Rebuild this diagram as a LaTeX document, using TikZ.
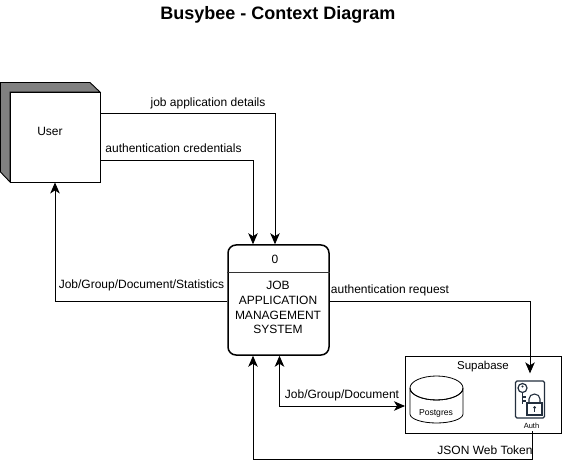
\documentclass[tikz,border=0pt]{standalone}
\usepackage{fontspec}
\setmainfont{Liberation Sans}
\usetikzlibrary{arrows.meta,calc,shapes.geometric}
\definecolor{iconblue}{HTML}{232F3E}
\tikzset{
  x=1pt,y=-1pt,
  conn/.style={draw=black,line width=0.9pt,-{Stealth[length=11pt,width=9.5pt,inset=3pt]}},
  connb/.style={draw=black,line width=0.9pt,{Stealth[length=11pt,width=9.5pt,inset=3pt]}-{Stealth[length=11pt,width=9.5pt,inset=3pt]}},
  lbl/.style={font=\fontsize{12}{14}\selectfont,inner sep=0pt,text=black},
  boxed/.style={draw=black,line width=0.9pt,fill=white,inner sep=0pt},
}
\begin{document}
\begin{tikzpicture}
\useasboundingbox (0,0) rectangle (562,470);
\fill[white] (0,0) rectangle (562,470);
\node[font=\fontsize{18}{20}\selectfont\bfseries,inner sep=0pt] (title) at (278,15) {Busybee - Context Diagram};

% User
\fill[gray,draw=black,line width=0.9pt] (0.5,82.5) -- (90,82.5) -- (100,92) -- (10,92) -- (10,182) -- (0.5,172) -- cycle;
\node[boxed,minimum width=90pt,minimum height=90pt] (user) at (55,137) {};
\node[lbl] (userlabel) at (50,131) {User};

% Main process
\node[boxed,line width=1.5pt,rounded corners=8pt,minimum width=101pt,minimum height=110pt] (main) at (278.5,300) {};
\draw[line width=0.8pt,draw=black!80] (main.west |- 0,272.5) -- (main.east |- 0,272.5);
\node[lbl] (zero) at (275,259.5) {0};
\node[lbl,align=center,font=\fontsize{12}{14.8}\selectfont] (jobs) at (278,307.5) {JOB\\APPLICATION\\MANAGEMENT\\SYSTEM};

% Supabase
\node[boxed,minimum width=156pt,minimum height=77pt,anchor=north west] (supa) at (404.5,356) {};
\node[lbl,font=\fontsize{11.5}{13}\selectfont] (supalabel) at (483,367) {Supabase};

% Postgres cylinder
\path[draw=black,line width=0.8pt,fill=white] (410,388) -- (410,414) arc[start angle=180,end angle=360,x radius=26.5pt,y radius=9pt] -- (463,388) arc[start angle=0,end angle=360,x radius=26.5pt,y radius=12pt];
\draw[line width=0.8pt] (410,388) arc[start angle=180,end angle=360,x radius=26.5pt,y radius=12pt];
\coordinate (pg) at (405,406);
\node[lbl,font=\fontsize{8.6}{10}\selectfont] (pglabel) at (436,413.5) {Postgres};

% Auth icon
\node[draw=iconblue,line width=1.3pt,rounded corners=1.5pt,minimum width=29pt,minimum height=37pt,inner sep=0pt,fill=white] (auth) at (530,399.5) {};
\draw[iconblue,line width=1.2pt] (522.5,388) circle[radius=4.5pt];
\fill[iconblue] (522.5,386.5) circle[radius=1.2pt];
\draw[iconblue,line width=1.2pt] (522.5,392.5) -- (522.5,404) (522.5,397) -- (526,397) (522.5,401) -- (526,401);
\draw[iconblue,line width=1.1pt] (529,403) -- (529,399) arc[start angle=180,end angle=0,x radius=5.5pt,y radius=5pt] -- (540,403);
\draw[iconblue,line width=1.2pt,fill=white] (527,403) rectangle (542,415);
\fill[iconblue] (534.5,407.5) circle[radius=1.5pt];
\draw[iconblue,line width=0.8pt] (534.5,408) -- (534.5,411.5);
\node[lbl,font=\fontsize{7.5}{9}\selectfont] (authlabel) at (531.5,425.5) {Auth};

% Connectors
\draw[conn] ([yshift=24pt]user.east) -| ([xshift=-3.5pt]main.north);
\node[lbl] (l1) at (208,103) {job application details};
\draw[conn] ([yshift=-23pt]user.east) -| ([xshift=-25.5pt]main.north);
\node[lbl] (l2) at (173.5,148) {authentication credentials};
\draw[conn] ([yshift=-1pt]main.west) -| (user.south);
\node[lbl] (l3) at (141.5,285) {Job/Group/Document/Statistics};
\draw[conn] ([yshift=-1pt]main.east) -| ([yshift=7pt]auth.north);
\node[lbl] (l4) at (390,290) {authentication request};
\draw[connb] (pg) -| ([xshift=1pt]main.south);
\node[lbl] (l5) at (342,395) {Job/Group/Document};
\coordinate (tokstart) at (532.5,431);
\draw[conn] (tokstart) |- (300,459.5) -| ([xshift=-25.5pt]main.south);
\node[lbl] (l6) at (485,450) {JSON Web Token};
\end{tikzpicture}
\end{document}
